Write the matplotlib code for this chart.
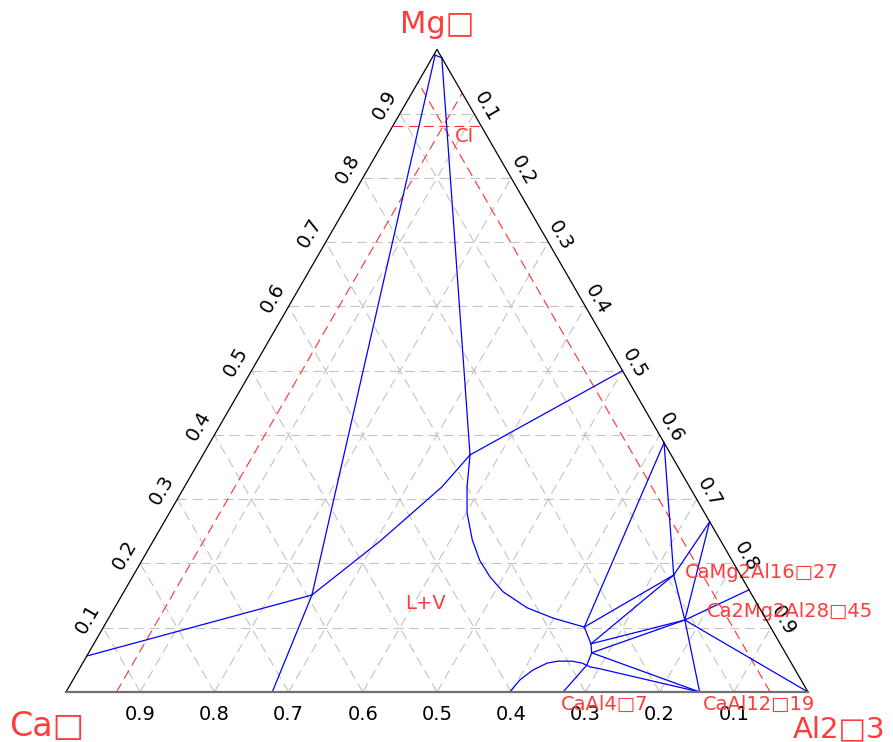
import numpy as np
import matplotlib.pyplot as plt

plt.rcParams['font.family'] = ['DejaVu Sans']
plt.rcParams['lines.scale_dashes'] = False

#-- Data: compositions as (CaO, MgO, Al2O3) fractions ---------------------
corner_labels = ['Ca\u25a1', 'Mg\u25a1', 'Al2\u25a13']
ticks = [0.1, 0.2, 0.3, 0.4, 0.5, 0.6, 0.7, 0.8, 0.9]

# section through the CI point (constant CaO, MgO, Al2O3)
ci_cao, ci_mgo, ci_al2o3 = 0.051, 0.881, 0.068

# invariant / junction points
p_top_l = (0.007, 0.991, 0.002)
p_top_r = (0.000, 0.987, 0.013)
p_k = (0.593, 0.151, 0.256)
p_j = (0.271, 0.369, 0.360)
p_a = (0.251, 0.101, 0.648)
p_b = (0.255, 0.075, 0.670)
p_c = (0.261, 0.061, 0.678)
p_e = (0.090, 0.182, 0.728)
p_f = (0.110, 0.112, 0.778)

# points on the edges
e_left = (0.944, 0.056, 0.000)
e_bot1 = (0.722, 0.000, 0.278)
e_bot2 = (0.330, 0.000, 0.670)
e_bot3 = (0.146, 0.000, 0.854)
e_r1 = (0.000, 0.500, 0.500)
e_r2 = (0.000, 0.388, 0.612)
e_r3 = (0.000, 0.265, 0.735)
e_r4 = (0.000, 0.159, 0.841)
v_al2o3 = (0.000, 0.000, 1.000)

spinel_curve = [p_j, (0.300, 0.319, 0.381), (0.320, 0.279, 0.401),
                (0.334, 0.237, 0.429), (0.340, 0.205, 0.455),
                (0.339, 0.179, 0.482), (0.333, 0.156, 0.511),
                (0.313, 0.131, 0.556), (0.286, 0.115, 0.599), p_a]
lime_curve = [p_k, (0.459, 0.235, 0.306), (0.334, 0.319, 0.347), p_j]
low_curve = [(0.402, 0.000, 0.598), (0.379, 0.019, 0.603),
             (0.354, 0.034, 0.612), (0.329, 0.045, 0.626),
             (0.313, 0.048, 0.639), (0.294, 0.048, 0.658),
             (0.282, 0.045, 0.673), (0.274, 0.039, 0.687),
             (0.262, 0.036, 0.702), e_bot3]

boundaries = [
    [p_top_l, p_top_r],
    [p_top_l, p_k, e_bot1],
    [p_top_r, p_j],
    [e_left, p_k],
    lime_curve,
    [p_j, e_r1],
    spinel_curve,
    [p_a, p_b, p_c, (0.277, 0.042, 0.681), e_bot2],
    [p_a, e_r2],
    [e_r2, p_e, p_f, e_bot3],
    [e_r3, p_e],
    [e_r3, p_f],
    [p_e, p_a],
    [p_e, p_b],
    [p_f, p_b],
    [p_f, p_c],
    [p_f, e_r4],
    [p_f, v_al2o3],
    [p_c, e_bot3],
    low_curve,
]

phase_labels = ['CI', 'L+V', 'CaMg2Al16\u25a127', 'Ca2Mg2Al28\u25a145',
                'CaAl4\u25a17', 'CaAl12\u25a119']


def tern(c, m, a):
    s = c + m + a
    return (a + m / 2) / s, (m * np.sqrt(3) / 2) / s


def line(pts, **kw):
    xy = np.array([tern(*p) for p in pts])
    ax.plot(xy[:, 0], xy[:, 1], **kw)


def px(x, y):
    # pixel position -> data coords
    return (x - 66) / 742, (692 - y) / 742


#-- Plot -------------------------------------------------------------------
fig = plt.figure(figsize=(8.93, 7.42), dpi=100)
ax = fig.add_axes([0, 0, 1, 1])
ax.set_xlim(-66 / 742, (893 - 66) / 742)
ax.set_ylim(-50 / 742, 692 / 742)
ax.axis('off')

grid_kw = dict(color='#c4c4c4', lw=0.8, dashes=(7, 4), zorder=1)
for t in ticks:
    line([(1 - t, t, 0), (0, t, 1 - t)], **grid_kw)   # const MgO
    line([(1 - t, 0, t), (0, 1 - t, t)], **grid_kw)   # const Al2O3
    line([(t, 0, 1 - t), (t, 1 - t, 0)], **grid_kw)   # const CaO

red_kw = dict(color='#ff3030', lw=0.8, dashes=(7, 4), zorder=2)
line([(1 - ci_mgo, ci_mgo, 0), (0, ci_mgo, 1 - ci_mgo)], **red_kw)
line([(1 - ci_al2o3, 0, ci_al2o3), (0, 1 - ci_al2o3, ci_al2o3)], **red_kw)
line([(ci_cao, 0, 1 - ci_cao), (ci_cao, 1 - ci_cao, 0)], **red_kw)

for b in boundaries:
    line(b, color='#0000ff', lw=0.9, zorder=3, solid_joinstyle='miter')

line([(1, 0, 0), (0, 1, 0), (0, 0, 1)], color='black', lw=0.9, zorder=4)
line([(1, 0, 0), (0, 0, 1)], color='#707070', lw=1.6, zorder=4)

s3 = np.sqrt(3) / 2
tick_kw = dict(fontsize=14, color='black', ha='center', va='center')
for t in ticks:
    x, y = tern(1 - t, t, 0)
    d = 18 / 742
    ax.text(x - s3 * d, y + 0.5 * d, f'{t:.1f}', rotation=60, **tick_kw)
    x, y = tern(0, 1 - t, t)
    d = 14 / 742
    ax.text(x + s3 * d, y + 0.5 * d, f'{t:.1f}', rotation=-60, **tick_kw)
    x, y = tern(t, 0, 1 - t)
    ax.text(x, y - 22 / 742, f'{t:.1f}', **tick_kw)

red = '#ff3b3b'
ax.text(*px(437, 33), corner_labels[1], fontsize=22, color=red,
        ha='center', va='baseline')
ax.text(*px(9, 736), corner_labels[0], fontsize=24, color=red,
        ha='left', va='baseline')
ax.text(*px(885, 737), corner_labels[2], fontsize=21, color=red,
        ha='right', va='baseline')

lab_pos = [(455, 142), (405, 609), (685, 578), (707, 617), (561, 710), (703, 710)]
for s, (x, y) in zip(phase_labels, lab_pos):
    ax.text(*px(x, y), s, fontsize=14, color=red, ha='left', va='baseline')

fig.savefig('out.png', dpi=100)
